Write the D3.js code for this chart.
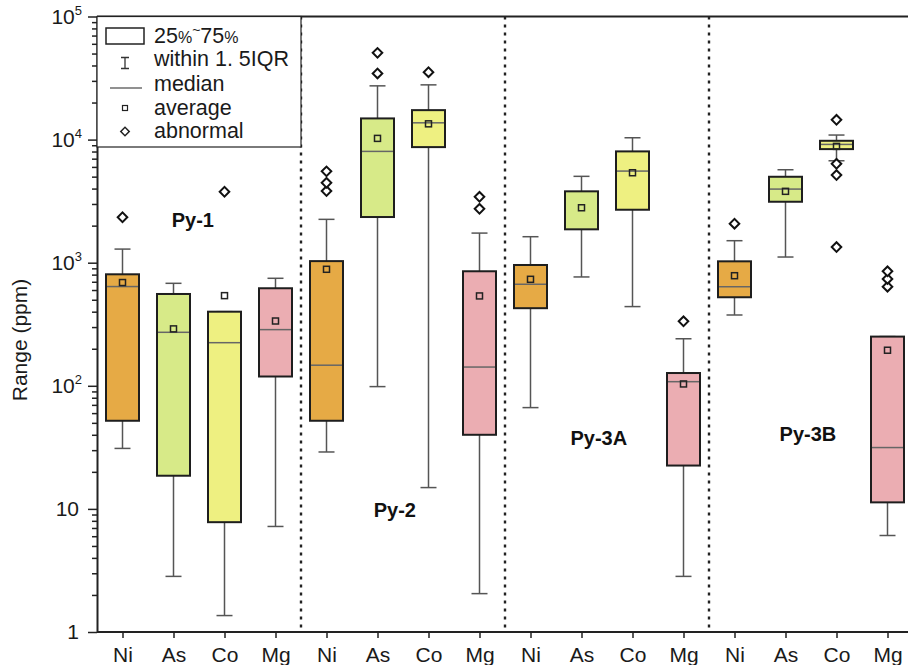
<!DOCTYPE html>
<html>
<head>
<meta charset="utf-8">
<style>
  body { margin: 0; background: #fff; }
  svg { font-family: 'Liberation Sans', Arial, sans-serif; }
  .axis .domain { stroke: #222; stroke-width: 2; }
  .axis .tick line { stroke: #222; stroke-width: 1.5; }
  .axis text { fill: #1a1a1a; font-size: 21px; }
</style>
</head>
<body>
<svg width="908" height="665"></svg>
<script src="https://d3js.org/d3.v7.min.js"></script>
<script>
// categories
const groups = ["Py-1", "Py-2", "Py-3A", "Py-3B"];
const elements = ["Ni", "As", "Co", "Mg"];

// box statistics, ppm, one entry per element inside each group (16 boxes)
const q1     = [52, 18.6, 7.8, 119,   52, 2350, 8690, 40,    427, 1867, 2693, 22.5,   524, 3127, 8370, 11.3];
const median = [640, 272, 224, 286,   147, 8020, 13690, 142, 668, null, 5550, 108,    638, 3963, 9140, 31.5];
const q3     = [805, 557, 400, 620,   1030, 14860, 17350, 852, 958, 3800, 8020, 127,  1026, 4990, 9780, 251];
const whLow  = [31, 2.83, 1.36, 7.2,  29, 98.5, 14.9, 2.05,  66.5, 766, 440, 2.83,    376, 1112, 6730, 6.08];
const whHigh = [1290, 680, 400, 747,  2250, 27330, 27840, 1740, 1626, 5030, 10350, 241, 1509, 5690, 10890, 251];
const mean   = [690, 290, 540, 336,   884, 10230, 13430, 537, 733, 2795, 5380, 103.5, 784, 3800, 8810, 194.5];
const outliers = [
  [2340], [], [3770], [],
  [3820, 4460, 5520], [34460, 50660], [35300], [2740, 3430],
  [], [], [], [334],
  [2073], [], [14480, 6360, 5150, 1341], [638, 738, 852]
];

// group label anchors (x in box index units, y in ppm)
const groupLabelX = [1.38, 5.34, 9.34, 13.44];
const groupLabelY = [1950, 8.6, 33, 35.7];

const yTicksMajor = [1, 10, 100, 1000, 10000, 100000];
const legendLabels = ["within 1. 5IQR", "median", "average", "abnormal"];

const colors = { Ni: "#E6AA45", As: "#D7EA88", Co: "#EEF081", Mg: "#EBADB2" };

const svg = d3.select("svg");
const margin = { top: 16.5, right: 0, bottom: 33, left: 97 };
const W = 908, H = 665;

const x = d3.scaleLinear()
  .domain([-0.5, 15.5])
  .range([margin.left, margin.left + 16 * 51]);

const y = d3.scaleLog()
  .domain([1, 1e5])
  .range([H - margin.bottom, margin.top]);

const boxes = d3.range(16).map(i => ({
  i: i,
  el: elements[i % 4],
  q1: q1[i], med: median[i], q3: q3[i],
  lo: whLow[i], hi: whHigh[i], mean: mean[i], out: outliers[i]
}));

// dotted group dividers
svg.append("g")
  .selectAll("line")
  .data([3.5, 7.5, 11.5])
  .join("line")
  .attr("x1", d => x(d)).attr("x2", d => x(d))
  .attr("y1", y(1e5)).attr("y2", y(1))
  .attr("stroke", "#222")
  .attr("stroke-width", 2.4)
  .attr("stroke-dasharray", "3 5");

// top frame line
svg.append("line")
  .attr("x1", margin.left).attr("x2", W)
  .attr("y1", y(1e5)).attr("y2", y(1e5))
  .attr("stroke", "#222").attr("stroke-width", 2);

const boxW = 33, capW = 16;
const g = svg.append("g").selectAll("g").data(boxes).join("g");

// whiskers
g.append("line")
  .attr("x1", d => x(d.i)).attr("x2", d => x(d.i))
  .attr("y1", d => y(d.lo)).attr("y2", d => y(d.hi))
  .attr("stroke", "#555").attr("stroke-width", 1.5);
g.selectAll(".cap")
  .data(d => [{ i: d.i, v: d.lo }, { i: d.i, v: d.hi }])
  .join("line")
  .attr("class", "cap")
  .attr("x1", d => x(d.i) - capW / 2).attr("x2", d => x(d.i) + capW / 2)
  .attr("y1", d => y(d.v)).attr("y2", d => y(d.v))
  .attr("stroke", "#555").attr("stroke-width", 1.5);

// boxes
g.append("rect")
  .attr("x", d => x(d.i) - boxW / 2)
  .attr("width", boxW)
  .attr("y", d => y(d.q3))
  .attr("height", d => y(d.q1) - y(d.q3))
  .attr("fill", d => colors[d.el])
  .attr("stroke", "#1e1e1e")
  .attr("stroke-width", 2);

// medians
g.filter(d => d.med != null).append("line")
  .attr("x1", d => x(d.i) - boxW / 2 + 1).attr("x2", d => x(d.i) + boxW / 2 - 1)
  .attr("y1", d => y(d.med)).attr("y2", d => y(d.med))
  .attr("stroke", "#666").attr("stroke-width", 1.5);

// means
g.append("rect")
  .attr("x", d => x(d.i) - 3).attr("y", d => y(d.mean) - 3)
  .attr("width", 6).attr("height", 6)
  .attr("fill", "none").attr("stroke", "#222").attr("stroke-width", 1.5);

// outliers
const diamond = d3.symbol(d3.symbolSquare, 46)();
g.selectAll(".out")
  .data(d => d.out.map(v => ({ i: d.i, v: v })))
  .join("path")
  .attr("class", "out")
  .attr("d", diamond)
  .attr("transform", d => `translate(${x(d.i)},${y(d.v)}) rotate(45)`)
  .attr("fill", "#fff").attr("stroke", "#111").attr("stroke-width", 2);

// group labels
svg.append("g")
  .selectAll("text")
  .data(groups)
  .join("text")
  .attr("x", (d, k) => x(groupLabelX[k]))
  .attr("y", (d, k) => y(groupLabelY[k]))
  .attr("text-anchor", "middle")
  .attr("font-size", "20px")
  .attr("font-weight", "bold")
  .attr("fill", "#111")
  .text(d => d);

// x axis
const xAxis = svg.append("g")
  .attr("class", "axis")
  .attr("transform", `translate(0,${y(1)})`)
  .call(d3.axisBottom(x)
    .tickValues(d3.range(16))
    .tickFormat(i => elements[i % 4])
    .tickSize(6)
    .tickSizeOuter(0)
    .tickPadding(9));
xAxis.select(".domain").attr("d", `M${margin.left},0H${W}`);

// y axis, minor ticks
const minors = [];
for (let e = 0; e < 5; e++) for (let m = 2; m < 10; m++) minors.push(m * Math.pow(10, e));
svg.append("g")
  .attr("class", "axis")
  .attr("transform", `translate(${margin.left},0)`)
  .call(d3.axisLeft(y).tickValues(minors).tickSize(5).tickFormat(""))
  .select(".domain").remove();

// y axis, major ticks
const yAxis = svg.append("g")
  .attr("class", "axis")
  .attr("transform", `translate(${margin.left},0)`)
  .call(d3.axisLeft(y)
    .tickValues(yTicksMajor)
    .tickSize(9)
    .tickSizeOuter(0)
    .tickPadding(6)
    .tickFormat(""));

yAxis.selectAll(".tick text").each(function (d) {
  const t = d3.select(this);
  const e = Math.round(Math.log10(d));
  if (e <= 1) {
    t.attr("dx", "-3").text(String(d));
  } else {
    t.append("tspan").text("10");
    t.append("tspan").attr("font-size", "13px").attr("dy", "-9").text(e);
  }
});

// y title
svg.append("text")
  .attr("transform", "translate(27,340) rotate(-90)")
  .attr("text-anchor", "middle")
  .attr("font-size", "21px")
  .attr("fill", "#1a1a1a")
  .text("Range (ppm)");

// legend
const lg = svg.append("g");
lg.append("rect")
  .attr("x", margin.left).attr("y", y(1e5))
  .attr("width", x(3.5) - margin.left).attr("height", 130.5)
  .attr("fill", "#fff").attr("stroke", "#222").attr("stroke-width", 1.2);

const lx = 125, tx = 154;
const rowY = [43.3, 65.7, 90.7, 115, 138.3];

lg.append("rect")
  .attr("x", 106).attr("y", 28).attr("width", 38).attr("height", 16)
  .attr("fill", "none").attr("stroke", "#222").attr("stroke-width", 1.5);
const t0 = lg.append("text").attr("x", tx).attr("y", rowY[0]).attr("font-size", "21.5px").attr("fill", "#1a1a1a");
t0.append("tspan").text("25");
t0.append("tspan").attr("font-size", "16px").text("%");
t0.append("tspan").attr("font-size", "14px").attr("dy", "-8").text("~");
t0.append("tspan").attr("dy", "8").text("75");
t0.append("tspan").attr("font-size", "16px").text("%");

lg.append("path")
  .attr("d", `M${lx - 4},57.5H${lx + 4}M${lx},57.5V68.5M${lx - 4},68.5H${lx + 4}`)
  .attr("stroke", "#333").attr("stroke-width", 1.3).attr("fill", "none");
lg.append("line")
  .attr("x1", 110).attr("x2", 142).attr("y1", 88).attr("y2", 88)
  .attr("stroke", "#555").attr("stroke-width", 1.3);
lg.append("rect")
  .attr("x", lx - 2.5).attr("y", 105.5).attr("width", 5).attr("height", 5)
  .attr("fill", "none").attr("stroke", "#222").attr("stroke-width", 1.2);
lg.append("path")
  .attr("d", d3.symbol(d3.symbolSquare, 36)())
  .attr("transform", `translate(${lx},131.5) rotate(45)`)
  .attr("fill", "none").attr("stroke", "#222").attr("stroke-width", 1.5);

lg.selectAll(".lt")
  .data(legendLabels)
  .join("text")
  .attr("class", "lt")
  .attr("x", tx)
  .attr("y", (d, k) => rowY[k + 1])
  .attr("font-size", "21.5px")
  .attr("fill", "#1a1a1a")
  .text(d => d);
</script>
</body>
</html>
